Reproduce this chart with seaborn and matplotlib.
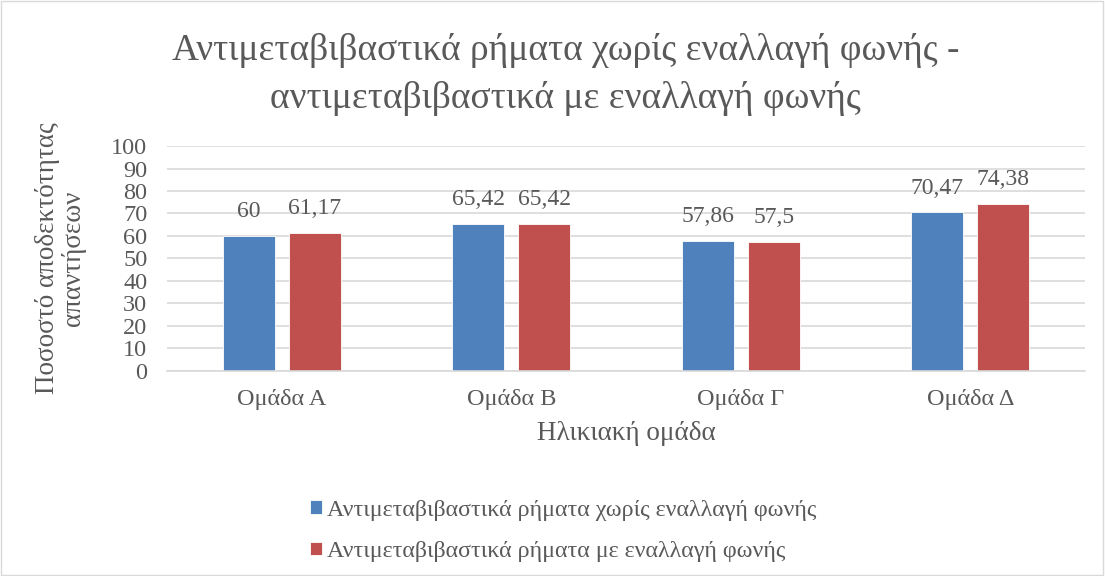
import matplotlib
matplotlib.use("Agg")
import matplotlib.pyplot as plt
import seaborn as sns
import pandas as pd
from matplotlib.patches import Rectangle

categories = ["Ομάδα Α", "Ομάδα Β", "Ομάδα Γ", "Ομάδα Δ"]
series_names = ["Αντιμεταβιβαστικά ρήματα χωρίς εναλλαγή φωνής",
                "Αντιμεταβιβαστικά ρήματα με εναλλαγή φωνής"]
values_without = [60, 65.42, 57.86, 70.47]
values_with = [61.17, 65.42, 57.5, 74.38]
y_ticks = [0, 10, 20, 30, 40, 50, 60, 70, 80, 90, 100]

colors = ["#4F81BD", "#C0504D"]
text_color = "#595959"

sns.set_theme(style="white")
plt.rcParams["font.family"] = ["Liberation Serif", "DejaVu Serif"]

df = pd.DataFrame({
    "group": categories * 2,
    "series": [series_names[0]] * 4 + [series_names[1]] * 4,
    "value": values_without + values_with,
})

fig = plt.figure(figsize=(11.05, 5.76), dpi=100)
ax = fig.add_axes([0.151, 0.356, 0.831, 0.3905])

sns.barplot(data=df, x="group", y="value", hue="series", palette=colors,
            width=0.575, gap=0.21, ax=ax, legend=True, saturation=1,
            edgecolor="white", linewidth=0.6)

ax.set_ylim(0, 100)
ax.set_xlim(-0.5, 3.5)
ax.set_yticks(y_ticks)
ax.set_yticklabels([str(t) for t in y_ticks])
ax.yaxis.grid(True, color="#d9d9d9", linewidth=1.2)
ax.set_axisbelow(True)
for s in ["top", "right", "left"]:
    ax.spines[s].set_visible(False)
ax.spines["bottom"].set_color("#d9d9d9")
ax.spines["bottom"].set_linewidth(1.2)
ax.tick_params(axis="both", length=0, labelsize=17.5, colors=text_color)
ax.tick_params(axis="y", pad=14)
ax.tick_params(axis="x", pad=13)

for cont in ax.containers:
    labels = [f"{v:g}".replace(".", ",") for v in cont.datavalues]
    ax.bar_label(cont, labels=labels, padding=10, fontsize=17, color=text_color)

ax.set_xlabel("Ηλικιακή ομάδα", fontsize=19.5, color=text_color, labelpad=8)
ax.set_ylabel("Ποσοστό αποδεκτότητας\nαπαντήσεων", fontsize=19.5, color=text_color,
              labelpad=18, linespacing=1.07)

fig.suptitle("Αντιμεταβιβαστικά ρήματα χωρίς εναλλαγή φωνής -\nαντιμεταβιβαστικά με εναλλαγή φωνής",
             x=0.512, y=0.942, fontsize=27, color=text_color, linespacing=1.45)

handles, labels = ax.get_legend_handles_labels()
ax.get_legend().remove()
fig.legend(handles, labels, loc="upper left", bbox_to_anchor=(0.261, 0.17),
           frameon=False, fontsize=17.3, labelcolor=text_color,
           handlelength=0.5, handleheight=0.5, handletextpad=0.2,
           labelspacing=0.85, ncol=1, bbox_transform=fig.transFigure)

fig.patches.append(Rectangle((0.001, 0.001), 0.997, 0.997, transform=fig.transFigure,
                             fill=False, edgecolor="#d9d9d9", linewidth=1))

fig.savefig("out.png", dpi=100)
